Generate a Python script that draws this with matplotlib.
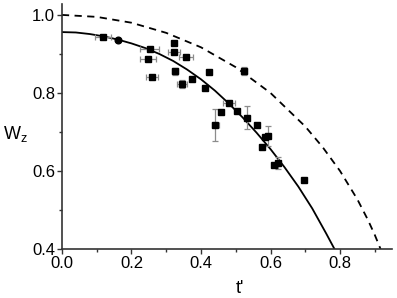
import numpy as np
import matplotlib
matplotlib.use("Agg")
import matplotlib.pyplot as plt
from matplotlib.ticker import MultipleLocator, FormatStrFormatter

plt.rcParams['font.family'] = ['Liberation Sans', 'DejaVu Sans']

# measured points (t', W_z)
t_pts = [0.117, 0.252, 0.247, 0.259, 0.322, 0.322, 0.357, 0.325, 0.346, 0.374,
         0.412, 0.423, 0.525, 0.480, 0.457, 0.441, 0.504, 0.532, 0.560, 0.584,
         0.594, 0.576, 0.610, 0.621, 0.696]
w_pts = [0.943, 0.912, 0.888, 0.842, 0.927, 0.906, 0.892, 0.855, 0.823, 0.837,
         0.812, 0.853, 0.856, 0.774, 0.752, 0.718, 0.755, 0.737, 0.718, 0.686,
         0.690, 0.662, 0.616, 0.620, 0.578]
t_err = [0.023, 0.026, 0.023, 0.017, 0.0, 0.017, 0.020, 0.008, 0.014, 0.0,
         0.0, 0.0, 0.008, 0.017, 0.0, 0.010, 0.0, 0.0, 0.0, 0.0,
         0.0, 0.0, 0.0, 0.0, 0.0]
w_err = [0.0, 0.0, 0.0, 0.0, 0.0, 0.0, 0.0, 0.008, 0.010, 0.0,
         0.0, 0.0, 0.010, 0.0, 0.0, 0.040, 0.0, 0.030, 0.0, 0.0,
         0.026, 0.0, 0.0, 0.015, 0.0]

# circle point
t_circ = [0.160]
w_circ = [0.936]

# solid model curve
t_solid = [0.0, 0.04, 0.08, 0.12, 0.16, 0.20, 0.24, 0.28, 0.32, 0.36, 0.40,
           0.44, 0.48, 0.52, 0.56, 0.60, 0.64, 0.68, 0.72, 0.76, 0.784]
w_solid = [0.956, 0.955, 0.951, 0.945, 0.937, 0.927, 0.915, 0.900, 0.882, 0.860, 0.835,
           0.806, 0.773, 0.737, 0.698, 0.656, 0.610, 0.560, 0.504, 0.440, 0.400]

# dashed curve
t_dash = [0.0, 0.1, 0.2, 0.3, 0.4, 0.5, 0.6, 0.7, 0.75, 0.8, 0.85, 0.88, 0.9, 0.9165]
w_dash = [1.0, 0.995, 0.980, 0.954, 0.917, 0.866, 0.800, 0.714, 0.661, 0.600, 0.527, 0.475, 0.436, 0.400]

fig = plt.figure(figsize=(3.97, 2.98), dpi=100)
ax = fig.add_axes([0.156, 0.1644, 0.831, 0.8222])

ax.plot(t_solid, w_solid, color='black', lw=1.3, zorder=2)
ax.plot(t_dash, w_dash, color='black', lw=1.3, dashes=(4, 3), zorder=2)

ax.errorbar(t_pts, w_pts, xerr=t_err, yerr=w_err, fmt='none', ecolor='#8c8c8c',
            elinewidth=0.9, capsize=2, capthick=0.9, zorder=3)
ax.plot(t_pts, w_pts, 's', color='black', ms=4.3, zorder=4)
ax.plot(t_circ, w_circ, 'o', color='black', ms=4.8, zorder=4)

ax.set_xlim(0, 0.949)
ax.set_ylim(0.4, 1.028)
ax.xaxis.set_major_locator(MultipleLocator(0.2))
ax.xaxis.set_minor_locator(MultipleLocator(0.1))
ax.yaxis.set_major_locator(MultipleLocator(0.2))
ax.yaxis.set_minor_locator(MultipleLocator(0.1))
ax.xaxis.set_major_formatter(FormatStrFormatter('%.1f'))
ax.yaxis.set_major_formatter(FormatStrFormatter('%.1f'))

for s in ['top', 'right']:
    ax.spines[s].set_visible(False)
for s in ['left', 'bottom']:
    ax.spines[s].set_linewidth(1.2)
    ax.spines[s].set_color('#333333')

ax.tick_params(which='major', direction='out', length=3.5, width=1.0, labelsize=12, pad=1.5, color='#333333')
ax.tick_params(which='minor', direction='out', length=2, width=1.0, color='#333333')

ax.set_xlabel("t'", fontsize=13)
ax.xaxis.set_label_coords(0.54, -0.125)
ax.set_ylabel(r'W$_\mathregular{z}$', fontsize=13, rotation=0, va='center', ha='center')
ax.yaxis.set_label_coords(-0.14, 0.47)

fig.savefig('out.png', dpi=100)
